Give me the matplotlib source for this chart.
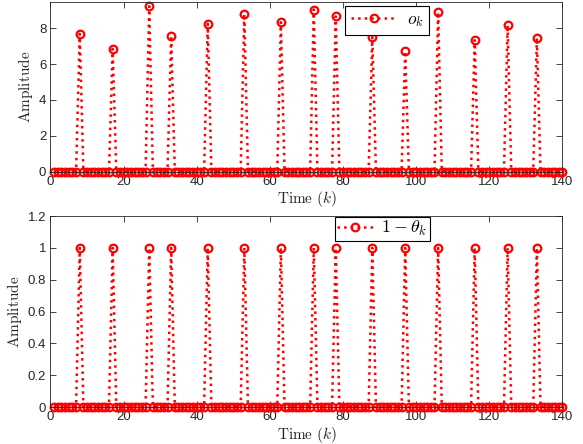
import numpy as np
import matplotlib
matplotlib.use("Agg")
import matplotlib.pyplot as plt

# ---- data ----
k_values = list(range(1, 141))
spike_times = [8, 17, 27, 33, 43, 53, 63, 72, 78, 88, 97, 106, 116, 125, 133]
o_spike_values = [7.69, 6.85, 9.23, 7.58, 8.26, 8.80, 8.34, 9.05, 8.66, 7.52,
                  6.72, 8.90, 7.34, 8.17, 7.47]
theta_spike_values = [1] * len(spike_times)

x_ticks = [0, 20, 40, 60, 80, 100, 120, 140]
top_y_ticks = [0, 2, 4, 6, 8]
bottom_y_ticks = [0, 0.2, 0.4, 0.6, 0.8, 1.0, 1.2]
tick_labels_bottom = ["0", "0.2", "0.4", "0.6", "0.8", "1", "1.2"]

k = np.array(k_values)
o_k = np.zeros(len(k))
one_minus_theta = np.zeros(len(k))
for t, v, w in zip(spike_times, o_spike_values, theta_spike_values):
    o_k[k_values.index(t)] = v
    one_minus_theta[k_values.index(t)] = w

plt.rcParams['mathtext.fontset'] = 'cm'
plt.rcParams['font.family'] = ['Liberation Sans', 'DejaVu Sans']

fig = plt.figure(figsize=(5.83, 4.44), dpi=100)
ax1 = fig.add_axes([0.0866, 0.6137, 0.8782, 0.3818])
ax2 = fig.add_axes([0.0866, 0.0833, 0.8782, 0.4302])

axcol = '#262626'
style = dict(color='red', linestyle=':', linewidth=1.8, marker='o',
             markersize=5.5, markerfacecolor='none', markeredgecolor='red',
             markeredgewidth=1.6, clip_on=False)

ax1.plot(k, o_k, label=r'$o_k$', **style)
ax2.plot(k, one_minus_theta, label=r'$1-\theta_k$', **style)

for ax in (ax1, ax2):
    ax.set_xlim(0, 140)
    ax.set_xticks(x_ticks)
    ax.tick_params(direction='in', top=True, right=True, length=4, width=0.6,
                   labelsize=9.5, colors=axcol, pad=3)
    for s in ax.spines.values():
        s.set_color(axcol)
        s.set_linewidth(0.6)
    ax.set_xlabel(r'$\mathrm{Time}\ (k)$', fontsize=11, color=axcol,
                  labelpad=1)
    ax.set_ylabel(r'$\mathrm{Amplitude}$', fontsize=11, color=axcol,
                  labelpad=3)

ax1.set_ylim(0, 9.47)
ax1.set_yticks(top_y_ticks)
ax2.set_ylim(0, 1.2)
ax2.set_yticks(bottom_y_ticks)
ax2.set_yticklabels(tick_labels_bottom)

leg1 = ax1.legend(loc='upper left', bbox_to_anchor=(0.575, 0.978),
                  borderaxespad=0, fancybox=False, framealpha=1,
                  edgecolor='black', fontsize=12.5, handlelength=2.6,
                  borderpad=0.35, handletextpad=0.6)
leg1.get_frame().set_linewidth(0.8)
leg2 = ax2.legend(loc='upper left', bbox_to_anchor=(0.555, 0.997),
                  borderaxespad=0, fancybox=False, framealpha=1,
                  edgecolor='black', fontsize=13, handlelength=2.0,
                  borderpad=0.15, handletextpad=0.4)
leg2.get_frame().set_linewidth(0.8)

fig.savefig('out.png', dpi=100)
